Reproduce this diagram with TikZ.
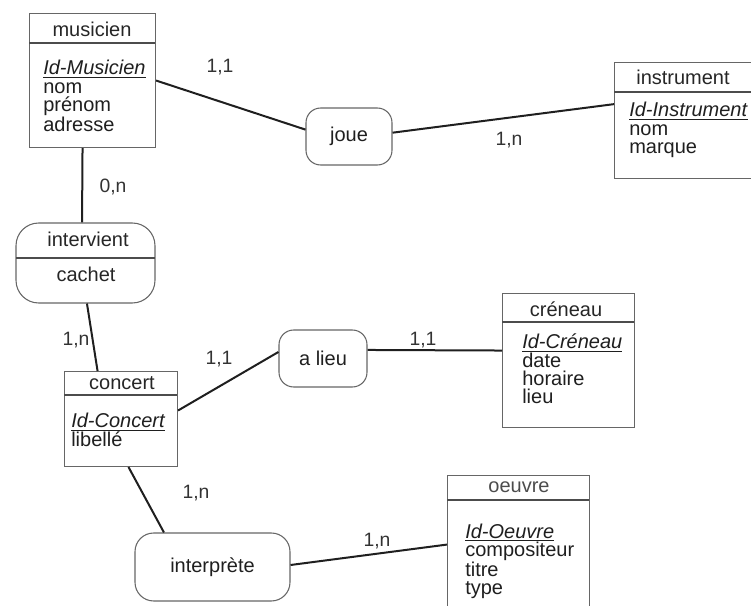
\documentclass[tikz,border=0pt]{standalone}
\usepackage{fontspec}
\setmainfont{Liberation Sans}
\newcommand{\idattr}[1]{\raisebox{0pt}[\height][0pt]{\underline{\textit{#1}}}}
\begin{document}
\begin{tikzpicture}[x=0.75pt,y=-0.75pt,
  ent/.style={draw=black!60, line width=0.8pt, inner sep=0pt, anchor=north west},
  rel/.style={draw=black!60, line width=0.8pt, rounded corners=11pt, inner sep=0pt,
    font=\fontsize{15}{15}\selectfont, text=black!88},
  conn/.style={line width=1.5pt, draw=black!88},
  divline/.style={draw=black!70, line width=0.9pt},
  ttl/.style={font=\fontsize{15}{15}\selectfont, text=black!85, inner sep=0pt},
  attr/.style={font=\fontsize{15}{13.6}\selectfont, text=black!88, inner sep=0pt, anchor=base west},
  lbl/.style={font=\fontsize{14.5}{14.5}\selectfont, text=black!80, inner sep=0pt}]
\useasboundingbox (0,0) rectangle (751,606);

% ---- entities ----
\node[ent, minimum width=94.5pt, minimum height=100.5pt] (musicien) at (29,13) {};
\draw[divline] (29,43) -- (155,43);
\node[ttl] (tmusicien) at (92,29) {musicien};
\node[attr] (amusicien) at (43,75) {\vtop{\hbox{\idattr{Id-Musicien}}\hbox{nom}\hbox{prénom}\hbox{adresse}}};

\node[ent, minimum width=105.75pt, minimum height=87pt] (instrument) at (614,62) {};
\draw[divline] (614,92) -- (755,92);
\node[ttl] (tinstrument) at (683,77) {instrument};
\node[attr] (ainstrument) at (629,117) {\vtop{\hbox{\idattr{Id-Instrument}}\hbox{nom}\hbox{marque}}};

\node[ent, minimum width=84.75pt, minimum height=71.25pt] (concert) at (64,371) {};
\draw[divline] (64,395) -- (177,395);
\node[ttl] (tconcert) at (122,383) {concert};
\node[attr] (aconcert) at (71,428) {\vtop{\hbox{\idattr{Id-Concert}}\hbox{libellé}}};

\node[ent, minimum width=99pt, minimum height=100.5pt] (creneau) at (502,293) {};
\draw[divline] (502,322) -- (634,322);
\node[ttl] (tcreneau) at (566,309) {créneau};
\node[attr] (acreneau) at (522,349) {\vtop{\hbox{\idattr{Id-Créneau}}\hbox{date}\hbox{horaire}\hbox{lieu}}};

\node[ent, minimum width=106.5pt, minimum height=108.75pt] (oeuvre) at (447,475) {};
\draw[divline] (447,500) -- (589,500);
\node[ttl, text=black!70] (toeuvre) at (519,487) {oeuvre};
\node[attr] (aoeuvre) at (465,538) {\vtop{\hbox{\idattr{Id-Oeuvre}}\hbox{compositeur}\hbox{titre}\hbox{type}}};

% ---- relationships ----
\node[rel, rounded corners=17pt, minimum width=104.25pt, minimum height=60pt] (intervient) at (85.5,263) {};
\draw[divline] (16,258) -- (155,258);
\node[ttl] (tintervient) at (88,239) {intervient};
\node[ttl] (tcachet) at (86,274) {cachet};

\node[rel, minimum width=64.5pt, minimum height=42.75pt] (joue) at (349,136.5) {joue};
\node[rel, minimum width=66pt, minimum height=42.75pt] (alieu) at (323,358.5) {a lieu};
\node[rel, rounded corners=14pt, minimum width=116.25pt, minimum height=51pt] (interprete) at (212.5,567) {interprète};

% ---- connectors ----
\draw[conn] (musicien.east) -- (joue.171);
\draw[conn] (joue.5) -- (instrument.167);
\draw[conn] ([xshift=-7.5pt]musicien.south) -- ([xshift=-2.6pt]intervient.north);
\draw[conn] ([xshift=1.1pt]intervient.south) -- ([xshift=-17.6pt]concert.north);
\draw[conn] ([yshift=6.4pt]concert.east) -- ([yshift=4.9pt]alieu.west);
\draw[conn] ([yshift=6.4pt]alieu.east) -- ([yshift=7.5pt]creneau.west);
\draw[conn] ([xshift=5.6pt]concert.south) -- ([xshift=-36.4pt]interprete.north);
\draw[conn] ([yshift=1.5pt]interprete.east) -- ([yshift=2.6pt]oeuvre.west);

% ---- cardinalities ----
\node[lbl] (c1) at (220,67) {1,1};
\node[lbl] (c2) at (509,140) {1,n};
\node[lbl] (c3) at (113,187) {0,n};
\node[lbl] (c4) at (76,340) {1,n};
\node[lbl] (c5) at (219,359) {1,1};
\node[lbl] (c6) at (423,340) {1,1};
\node[lbl] (c7) at (196,493) {1,n};
\node[lbl] (c8) at (377,541) {1,n};
\end{tikzpicture}
\end{document}
